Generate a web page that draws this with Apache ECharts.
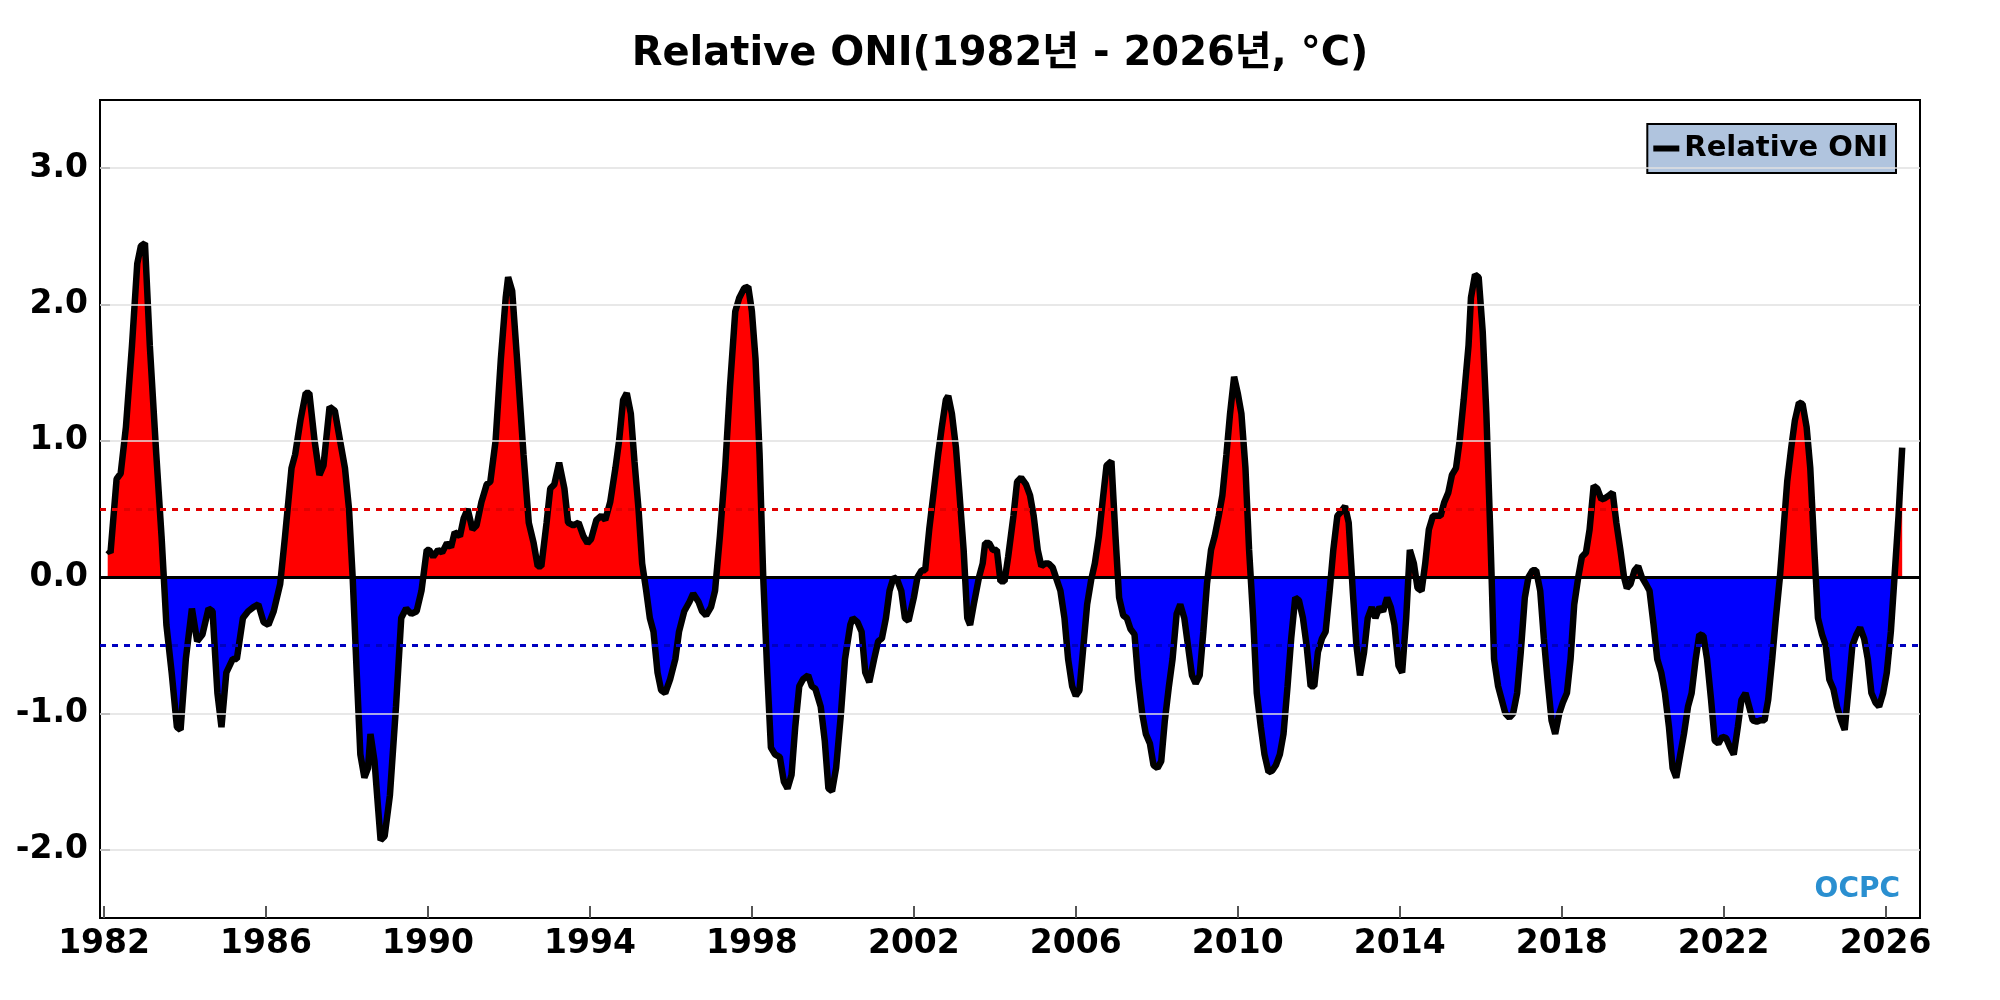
<!DOCTYPE html>
<html>
<head>
<meta charset="utf-8">
<script src="https://cdn.jsdelivr.net/npm/echarts@6/dist/echarts.min.js"></script>
<style>html,body{margin:0;padding:0;background:#fff}#chart{width:2000px;height:1000px}</style>
</head>
<body>
<div id="chart"></div>
<script>
// vertices: decimal year, relative ONI (°C)
const years = [1982.09,1982.16,1982.31,1982.41,1982.54,1982.69,1982.82,1982.91,1983.01,1983.13,1983.29,1983.42,1983.54,1983.67,1983.80,1983.89,1984.02,1984.17,1984.30,1984.43,1984.58,1984.68,1984.80,1984.90,1985.02,1985.18,1985.28,1985.43,1985.56,1985.69,1985.81,1985.94,1986.06,1986.19,1986.35,1986.47,1986.63,1986.72,1986.85,1986.98,1987.07,1987.20,1987.32,1987.42,1987.57,1987.70,1987.83,1987.95,1988.05,1988.14,1988.24,1988.33,1988.43,1988.52,1988.58,1988.68,1988.77,1988.83,1988.93,1989.06,1989.21,1989.34,1989.46,1989.59,1989.72,1989.84,1989.97,1990.03,1990.13,1990.25,1990.35,1990.47,1990.57,1990.66,1990.79,1990.88,1990.98,1991.10,1991.20,1991.32,1991.45,1991.54,1991.67,1991.80,1991.92,1991.98,1992.08,1992.20,1992.36,1992.49,1992.61,1992.71,1992.80,1992.93,1993.02,1993.12,1993.24,1993.37,1993.46,1993.59,1993.72,1993.84,1993.94,1994.03,1994.16,1994.28,1994.38,1994.50,1994.63,1994.72,1994.82,1994.91,1995.01,1995.10,1995.20,1995.29,1995.39,1995.48,1995.57,1995.67,1995.76,1995.86,1995.98,1996.11,1996.20,1996.33,1996.46,1996.55,1996.68,1996.77,1996.87,1996.99,1997.09,1997.21,1997.34,1997.46,1997.59,1997.69,1997.81,1997.91,1998.00,1998.09,1998.19,1998.28,1998.38,1998.47,1998.57,1998.69,1998.79,1998.88,1998.98,1999.07,1999.17,1999.26,1999.39,1999.48,1999.57,1999.70,1999.80,1999.89,1999.98,2000.08,2000.20,2000.30,2000.43,2000.49,2000.61,2000.71,2000.80,2000.90,2001.02,2001.12,2001.21,2001.31,2001.40,2001.50,2001.59,2001.69,2001.78,2001.87,2002.00,2002.09,2002.19,2002.28,2002.38,2002.50,2002.60,2002.69,2002.79,2002.85,2002.94,2003.04,2003.13,2003.23,2003.32,2003.39,2003.48,2003.61,2003.70,2003.76,2003.86,2003.95,2004.05,2004.14,2004.24,2004.33,2004.46,2004.55,2004.65,2004.77,2004.87,2004.96,2005.06,2005.15,2005.24,2005.33,2005.43,2005.53,2005.62,2005.72,2005.81,2005.91,2006.00,2006.09,2006.19,2006.28,2006.38,2006.47,2006.57,2006.66,2006.76,2006.88,2006.98,2007.07,2007.17,2007.26,2007.35,2007.45,2007.54,2007.64,2007.73,2007.83,2007.92,2008.02,2008.11,2008.20,2008.30,2008.39,2008.49,2008.58,2008.68,2008.77,2008.87,2008.96,2009.06,2009.15,2009.24,2009.34,2009.43,2009.53,2009.62,2009.72,2009.81,2009.91,2010.00,2010.09,2010.19,2010.28,2010.38,2010.47,2010.57,2010.66,2010.76,2010.85,2010.94,2011.04,2011.13,2011.23,2011.32,2011.42,2011.51,2011.61,2011.70,2011.80,2011.89,2011.98,2012.08,2012.17,2012.27,2012.36,2012.46,2012.55,2012.65,2012.74,2012.84,2012.93,2013.02,2013.12,2013.21,2013.31,2013.40,2013.50,2013.59,2013.69,2013.78,2013.87,2013.97,2014.06,2014.16,2014.25,2014.35,2014.44,2014.54,2014.63,2014.72,2014.82,2014.91,2015.01,2015.10,2015.20,2015.29,2015.39,2015.48,2015.58,2015.70,2015.76,2015.86,2015.95,2016.05,2016.14,2016.24,2016.33,2016.43,2016.52,2016.61,2016.71,2016.80,2016.90,2016.99,2017.09,2017.18,2017.28,2017.37,2017.47,2017.56,2017.65,2017.75,2017.84,2017.94,2018.03,2018.13,2018.22,2018.31,2018.41,2018.50,2018.60,2018.69,2018.79,2018.88,2018.98,2019.07,2019.17,2019.26,2019.35,2019.45,2019.54,2019.61,2019.70,2019.80,2019.89,2019.98,2020.08,2020.17,2020.27,2020.36,2020.46,2020.55,2020.65,2020.74,2020.83,2020.93,2021.02,2021.12,2021.21,2021.31,2021.40,2021.50,2021.59,2021.69,2021.78,2021.87,2021.97,2022.06,2022.16,2022.25,2022.35,2022.44,2022.54,2022.63,2022.72,2022.82,2022.91,2023.01,2023.10,2023.20,2023.29,2023.39,2023.48,2023.57,2023.67,2023.76,2023.86,2023.95,2024.05,2024.14,2024.24,2024.33,2024.43,2024.52,2024.61,2024.71,2024.80,2024.90,2024.99,2025.09,2025.18,2025.28,2025.37,2025.47,2025.56,2025.65,2025.75,2025.84,2025.94,2026.03,2026.13,2026.22,2026.32,2026.41];
const oni = [0.2,0.18,0.72,0.76,1.1,1.7,2.3,2.43,2.45,1.7,0.9,0.3,-0.35,-0.7,-1.1,-1.12,-0.6,-0.23,-0.47,-0.42,-0.23,-0.25,-0.85,-1.1,-0.7,-0.6,-0.6,-0.3,-0.25,-0.22,-0.2,-0.33,-0.35,-0.25,-0.05,0.3,0.8,0.9,1.15,1.35,1.35,1.0,0.75,0.82,1.25,1.22,1.0,0.8,0.5,0.0,-0.7,-1.3,-1.47,-1.4,-1.15,-1.35,-1.7,-1.93,-1.9,-1.6,-0.95,-0.3,-0.23,-0.27,-0.25,-0.1,0.2,0.2,0.15,0.2,0.18,0.25,0.22,0.33,0.3,0.43,0.5,0.35,0.38,0.55,0.68,0.7,1.0,1.6,2.05,2.2,2.1,1.6,0.9,0.4,0.25,0.08,0.08,0.4,0.65,0.68,0.84,0.65,0.4,0.38,0.4,0.3,0.25,0.28,0.42,0.45,0.42,0.55,0.8,1.0,1.3,1.35,1.2,0.85,0.5,0.1,-0.1,-0.3,-0.4,-0.7,-0.83,-0.85,-0.75,-0.6,-0.4,-0.25,-0.18,-0.12,-0.18,-0.25,-0.28,-0.22,-0.1,0.3,0.8,1.4,1.95,2.05,2.12,2.13,1.95,1.6,0.9,0.0,-0.7,-1.25,-1.3,-1.32,-1.5,-1.55,-1.45,-1.1,-0.8,-0.75,-0.72,-0.8,-0.82,-0.95,-1.2,-1.55,-1.57,-1.4,-1.0,-0.6,-0.35,-0.3,-0.33,-0.4,-0.7,-0.77,-0.6,-0.47,-0.45,-0.3,-0.1,0.0,-0.02,-0.1,-0.3,-0.32,-0.15,0.0,0.05,0.05,0.35,0.65,0.9,1.1,1.3,1.33,1.2,0.95,0.6,0.2,-0.3,-0.35,-0.2,0.0,0.1,0.25,0.25,0.2,0.2,-0.03,-0.03,0.15,0.45,0.7,0.73,0.68,0.6,0.45,0.2,0.08,0.1,0.1,0.07,-0.02,-0.1,-0.3,-0.6,-0.8,-0.87,-0.83,-0.5,-0.2,-0.02,0.1,0.3,0.55,0.82,0.85,0.3,-0.15,-0.28,-0.3,-0.38,-0.42,-0.75,-1.0,-1.15,-1.22,-1.38,-1.4,-1.35,-1.05,-0.8,-0.6,-0.27,-0.2,-0.3,-0.5,-0.72,-0.78,-0.72,-0.4,-0.05,0.2,0.3,0.45,0.6,0.9,1.2,1.47,1.35,1.2,0.8,0.2,-0.3,-0.85,-1.1,-1.3,-1.43,-1.42,-1.38,-1.3,-1.15,-0.8,-0.45,-0.15,-0.17,-0.3,-0.5,-0.8,-0.8,-0.55,-0.45,-0.4,-0.1,0.2,0.45,0.48,0.52,0.4,-0.1,-0.5,-0.72,-0.55,-0.3,-0.22,-0.3,-0.22,-0.25,-0.15,-0.22,-0.35,-0.65,-0.7,-0.3,0.2,0.1,-0.08,-0.1,0.1,0.35,0.45,0.45,0.45,0.55,0.62,0.75,0.8,1.0,1.3,1.7,2.05,2.22,2.2,1.8,1.2,0.3,-0.6,-0.8,-0.9,-1.0,-1.03,-1.0,-0.85,-0.55,-0.15,0.0,0.05,0.05,-0.1,-0.45,-0.75,-1.05,-1.15,-1.0,-0.92,-0.85,-0.6,-0.2,0.0,0.15,0.18,0.35,0.67,0.65,0.57,0.58,0.6,0.62,0.4,0.2,0.0,-0.08,-0.05,0.05,0.08,0.0,-0.05,-0.1,-0.35,-0.6,-0.7,-0.85,-1.1,-1.4,-1.47,-1.3,-1.15,-0.95,-0.85,-0.6,-0.42,-0.43,-0.6,-0.9,-1.2,-1.22,-1.17,-1.18,-1.25,-1.3,-1.1,-0.9,-0.85,-0.95,-1.05,-1.06,-1.05,-1.05,-0.9,-0.6,-0.3,0.0,0.35,0.7,0.95,1.15,1.28,1.27,1.1,0.8,0.2,-0.3,-0.42,-0.5,-0.75,-0.82,-0.95,-1.05,-1.12,-0.8,-0.5,-0.42,-0.37,-0.45,-0.6,-0.85,-0.92,-0.95,-0.85,-0.7,-0.4,0.0,0.45,0.95];
const yearTicks = [1982,1986,1990,1994,1998,2002,2006,2010,2014,2018,2022,2026];
const valueTicks = [-2,-1,0,1,2,3];
const thresholds = [0.5,-0.5];

const n = Math.min(years.length, oni.length);
const seriesData = [];
for (let i = 0; i < n; i++) seriesData.push([years[i], oni[i]]);

// split into above/below zero, adding the crossing point between sign changes
const posData = [], negData = [];
for (let i = 0; i < n; i++) {
	if (i > 0 && oni[i - 1] * oni[i] < 0) {
		const t = years[i - 1] + (years[i] - years[i - 1]) * oni[i - 1] / (oni[i - 1] - oni[i]);
		posData.push([t, 0]); negData.push([t, 0]);
	}
	posData.push([years[i], Math.max(oni[i], 0)]);
	negData.push([years[i], Math.min(oni[i], 0)]);
}
const font = '"DejaVu Sans", "Noto Sans CJK KR", sans-serif';

const chart = echarts.init(document.getElementById('chart'));
chart.setOption({
	animation: false,
	title: {
		text: 'Relative ONI(1982년 - 2026년, °C)',
		left: 'center', top: 30,
		textStyle: {fontFamily: font, fontSize: 40, fontWeight: 'bold', color: '#000'}
	},
	legend: {
		data: [{name: 'Relative ONI', icon: 'rect'}],
		right: 104, top: 124,
		backgroundColor: '#b0c4de', borderColor: '#000', borderWidth: 2,
		padding: [10, 8, 10, 6],
		itemWidth: 26, itemHeight: 6, itemGap: 4,
		textStyle: {fontFamily: font, fontSize: 29, fontWeight: 'bold', color: '#000'}
	},
	grid: {left: 100, right: 80, top: 100, bottom: 82, show: true, borderColor: '#000', borderWidth: 2},
	xAxis: {
		type: 'value', min: 1981.9, max: 2026.85,
		axisLine: {show: false, onZero: false},
		axisTick: {inside: true, length: 12, lineStyle: {color: '#555', width: 2}, customValues: yearTicks},
		axisLabel: {customValues: yearTicks, formatter: v => String(v), fontFamily: font, fontSize: 33, fontWeight: 'bold', color: '#000', margin: 10},
		splitLine: {show: false}
	},
	yAxis: {
		type: 'value', min: -2.5, max: 3.5,
		axisLine: {show: false},
		axisTick: {show: true, inside: true, length: 10, lineStyle: {color: '#555', width: 2}, customValues: valueTicks},
		axisLabel: {customValues: valueTicks, formatter: v => v.toFixed(1), fontFamily: font, fontSize: 33, fontWeight: 'bold', color: '#000', margin: 12},
		splitLine: {show: false}
	},
	series: [
		{
			name: 'pos', type: 'line', data: posData, symbol: 'none', silent: true, z: 2,
			lineStyle: {width: 0}, areaStyle: {color: '#ff0000', opacity: 1}
		},
		{
			name: 'neg', type: 'line', data: negData, symbol: 'none', silent: true, z: 2,
			lineStyle: {width: 0}, areaStyle: {color: '#0000ff', opacity: 1}
		},
		{
			name: 'Relative ONI', type: 'line', data: seriesData, symbol: 'none',
			lineStyle: {color: '#000', width: 6.5}, itemStyle: {color: '#000'}, z: 4,
			markLine: {
				silent: true, symbol: 'none', label: {show: false},
				data: valueTicks.filter(v => v !== 0).map(v => ({yAxis: v, lineStyle: {color: '#e0e0e0', width: 1.5, type: 'solid'}}))
					.concat([
						{yAxis: thresholds[0], lineStyle: {color: '#e00000', type: [6, 6], width: 3}},
						{yAxis: thresholds[1], lineStyle: {color: '#0000c0', type: [6, 6], width: 3}},
						{yAxis: 0, lineStyle: {color: '#000', type: 'solid', width: 3}}
					])
			}
		}
	],
	graphic: [{
		type: 'text', right: 100, top: 876,
		style: {text: 'OCPC', fontFamily: font, fontSize: 28, fontWeight: 'bold', fill: '#2a8fd0'}
	}]
});
</script>
</body>
</html>
